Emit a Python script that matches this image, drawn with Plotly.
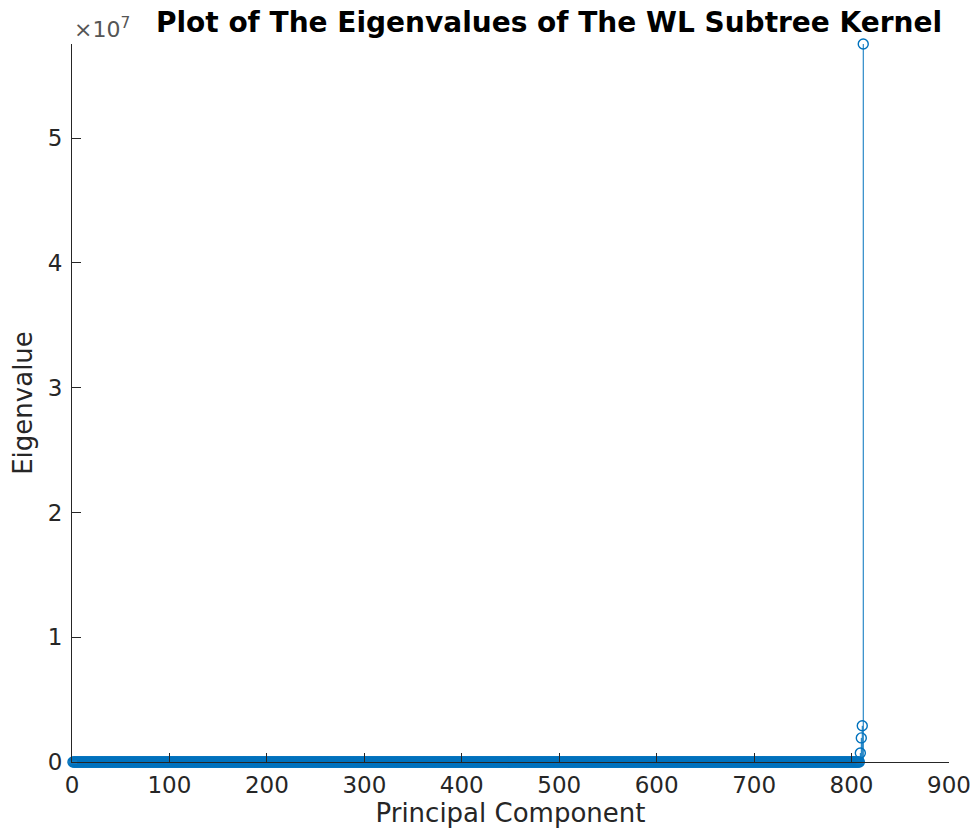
import plotly.graph_objects as go

# ---- data ----
n_near_zero = 808                      # eigenvalues indistinguishable from 0 at this scale
near_zero_values = [0.0] * n_near_zero
top_eigenvalues = [0.72e6, 1.93e6, 2.9e6, 5.755e7]
eigenvalues = near_zero_values + top_eigenvalues
components = list(range(1, len(eigenvalues) + 1))

x_ticks = [0, 100, 200, 300, 400, 500, 600, 700, 800, 900]
y_ticks = [0, 1e7, 2e7, 3e7, 4e7, 5e7]
y_tick_labels = ["0", "1", "2", "3", "4", "5"]

BLUE = "#0072BD"
AX = "#262626"
FONT = "DejaVu Sans"

# stem lines built from the data
sx, sy = [], []
for x, v in zip(components, eigenvalues):
    sx += [x, x, None]
    sy += [0, v, None]

fig = go.Figure()
fig.add_trace(go.Scatter(x=sx, y=sy, mode="lines",
                         line=dict(color=BLUE, width=1),
                         hoverinfo="skip", showlegend=False, cliponaxis=False))
fig.add_trace(go.Scatter(x=components, y=eigenvalues, mode="markers",
                         marker=dict(symbol="circle-open", size=10, color=BLUE,
                                     line=dict(width=1.4, color=BLUE)),
                         showlegend=False, cliponaxis=False))

fig.update_layout(
    width=979, height=837,
    paper_bgcolor="white", plot_bgcolor="white",
    margin=dict(l=64, r=38, t=36, b=83),
    font=dict(family=FONT, color=AX),
    title=dict(text="<b>Plot of The Eigenvalues of The WL Subtree Kernel</b>",
               x=0.5526, xanchor="center", y=0.983, yanchor="middle",
               font=dict(size=28, color="black", family=FONT)),
    xaxis=dict(range=[0, 900], tickvals=x_ticks, ticks="inside", ticklen=9,
               tickcolor=AX, showline=True, linecolor=AX, linewidth=1,
               showgrid=False, zeroline=False, automargin=False,
               tickfont=dict(size=23, color=AX), ticklabelstandoff=2,
               title=dict(text="Principal Component", font=dict(size=26, color=AX),
                          standoff=5)),
    yaxis=dict(range=[0, 5.755e7], tickvals=y_ticks, ticktext=y_tick_labels,
               ticks="inside", ticklen=9, tickcolor=AX, showline=True,
               linecolor=AX, linewidth=1, showgrid=False, zeroline=False,
               automargin=False,
               tickfont=dict(size=23, color=AX), ticklabelstandoff=4,
               title=dict(text="Eigenvalue", font=dict(size=26, color=AX),
                          standoff=8)),
    annotations=[dict(text="×10<sup>7</sup>", xref="paper", yref="paper",
                      x=0.0, y=1.0, xanchor="left", yanchor="bottom", yshift=0,
                      showarrow=False, font=dict(size=22, color="#555555"))],
)

fig.write_html("out.html")
